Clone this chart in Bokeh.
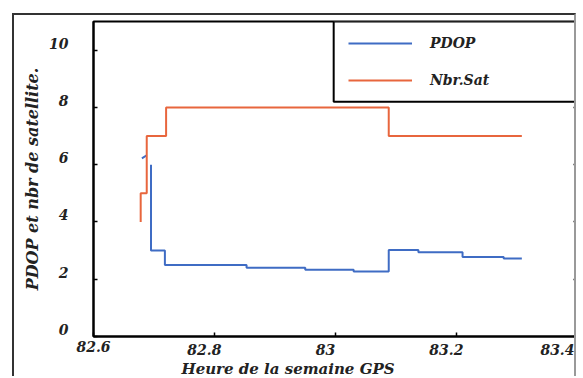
from bokeh.plotting import figure
from bokeh.models import (Range1d, LinearAxis, FixedTicker, Title, Legend, LegendItem,
                          BoxAnnotation)
from bokeh.embed import file_html
from bokeh.resources import INLINE

# ---- data ----
nbr_t = [82.678, 82.678, 82.688, 82.720, 83.088, 83.308]
nbr_v = [4, 5, 7, 8, 7, 7]
pdop_t = [82.695, 82.695, 82.718, 82.853, 82.950, 83.030, 83.088, 83.137, 83.210, 83.278, 83.308]
pdop_v = [6.0, 3.0, 2.5, 2.4, 2.33, 2.27, 3.02, 2.94, 2.78, 2.72, 2.72]
pdop_start_t = [82.680, 82.688]
pdop_start_v = [6.22, 6.33]
x_ticks = [82.6, 82.8, 83.0, 83.2, 83.4]
x_tick_labels = ["82.6", "82.8", "83", "83.2", "83.4"]
y_ticks = [0, 2, 4, 6, 8, 10]
y_tick_labels = ["0", "2", "4", "6", "8", "10"]

FONT = "DejaVu Serif"
BLUE = "#3f6cc4"
ORANGE = "#e8663d"
TXT = "#222222"

X0, X1, Y0, Y1 = 82.6, 83.4, 0, 11
FRAME_W, FRAME_H = 480, 315
DX = 10 * (X1 - X0) / FRAME_W      # tick labels sit ~10px left of their ticks
DY = 7 * (Y1 - Y0) / FRAME_H       # and ~7px above

p = figure(width=564, height=363, x_range=Range1d(X0, X1), y_range=Range1d(Y0, Y1),
           output_backend="svg", toolbar_location=None,
           min_border_left=79, min_border_right=1, min_border_top=6, min_border_bottom=42,
           margin=(13, 0, -8, 12),
           styles={"border-top": "2px solid #333", "border-left": "2px solid #333",
                   "border-right": "2px solid #999"})
p.extra_x_ranges = {"xlab": Range1d(X0 + DX, X1 + DX)}
p.extra_y_ranges = {"ylab": Range1d(Y0 - DY, Y1 - DY)}
p.grid.visible = False
p.outline_line_color = "black"
p.outline_line_width = 2
p.background_fill_color = "white"
p.border_fill_color = "white"


def label_style(ax):
    ax.major_label_text_font = FONT
    ax.major_label_text_font_style = "bold italic"
    ax.major_label_text_font_size = "14px"
    ax.major_label_text_color = TXT


def no_ticks(ax):
    ax.major_tick_line_color = None
    ax.minor_tick_line_color = None
    ax.axis_line_color = None


# main x axis: ticks inside, only the first label (it cannot be shifted outside the frame)
xa = p.xaxis[0]
xa.ticker = FixedTicker(ticks=x_ticks)
xa.major_label_overrides = {t: (s if i == 0 else "") for i, (t, s) in enumerate(zip(x_ticks, x_tick_labels))}
xa.major_tick_in = 4
xa.major_tick_out = 0
xa.minor_tick_line_color = None
xa.axis_line_width = 2
xa.major_tick_line_width = 1.5
xa.major_label_standoff = 4
label_style(xa)

# shifted labels for the other x ticks
xl = LinearAxis(x_range_name="xlab", ticker=FixedTicker(ticks=x_ticks))
xl.major_label_overrides = {t: s for t, s in zip(x_ticks, x_tick_labels)}
xl.major_label_standoff = -17
no_ticks(xl)
label_style(xl)
p.add_layout(xl, "below")

# main y axis: ticks only
ya = p.yaxis[0]
ya.ticker = FixedTicker(ticks=y_ticks)
ya.major_label_overrides = {t: "" for t in y_ticks}
ya.major_tick_in = 4
ya.major_tick_out = 0
ya.minor_tick_line_color = None
ya.axis_line_width = 2
ya.major_tick_line_width = 1.5
ya.major_label_standoff = 0

# shifted y labels + axis title
yl = LinearAxis(y_range_name="ylab", ticker=FixedTicker(ticks=y_ticks))
yl.major_label_overrides = {t: s for t, s in zip(y_ticks, y_tick_labels)}
yl.major_label_standoff = 19
no_ticks(yl)
label_style(yl)
yl.axis_label = "PDOP et nbr de satellite."
yl.axis_label_text_font = FONT
yl.axis_label_text_font_style = "bold italic"
yl.axis_label_text_font_size = "16px"
yl.axis_label_text_color = TXT
yl.axis_label_standoff = 4
p.add_layout(yl, "left")

ra = LinearAxis(ticker=FixedTicker(ticks=y_ticks))
ra.major_label_overrides = {t: "" for t in y_ticks}
ra.major_tick_in = 4
ra.major_tick_out = 0
ra.minor_tick_line_color = None
ra.axis_line_color = None
ra.major_label_standoff = 0
ra.major_tick_line_width = 1.5
p.add_layout(ra, "right")

p.add_layout(Title(text="Heure de la semaine GPS", align="left", offset=88, standoff=0,
                   text_font=FONT, text_font_style="bold italic", text_font_size="15px",
                   text_color=TXT), "below")

# data
r_pdop = p.step(pdop_t, pdop_v, mode="after", line_color=BLUE, line_width=2)
p.line(pdop_start_t, pdop_start_v, line_color=BLUE, line_width=2)
r_nbr = p.step(nbr_t, nbr_v, mode="after", line_color=ORANGE, line_width=2)

# legend box
p.add_layout(BoxAnnotation(left=82.997, right=83.4, bottom=8.2, top=11, fill_color="white",
                           fill_alpha=1, line_color="black", line_width=2, line_alpha=1))
legend = Legend(items=[LegendItem(label="PDOP", renderers=[r_pdop]),
                       LegendItem(label="Nbr.Sat", renderers=[r_nbr])],
                location=(243, 234), border_line_alpha=0, background_fill_alpha=0,
                padding=12, glyph_width=64, glyph_height=20, label_height=20, spacing=17,
                label_standoff=18, label_text_font=FONT, label_text_font_style="bold italic",
                label_text_font_size="14px", label_text_baseline="bottom", margin=0,
                label_text_color=TXT)
p.add_layout(legend)

open("out.html", "w").write(file_html(p, INLINE))
